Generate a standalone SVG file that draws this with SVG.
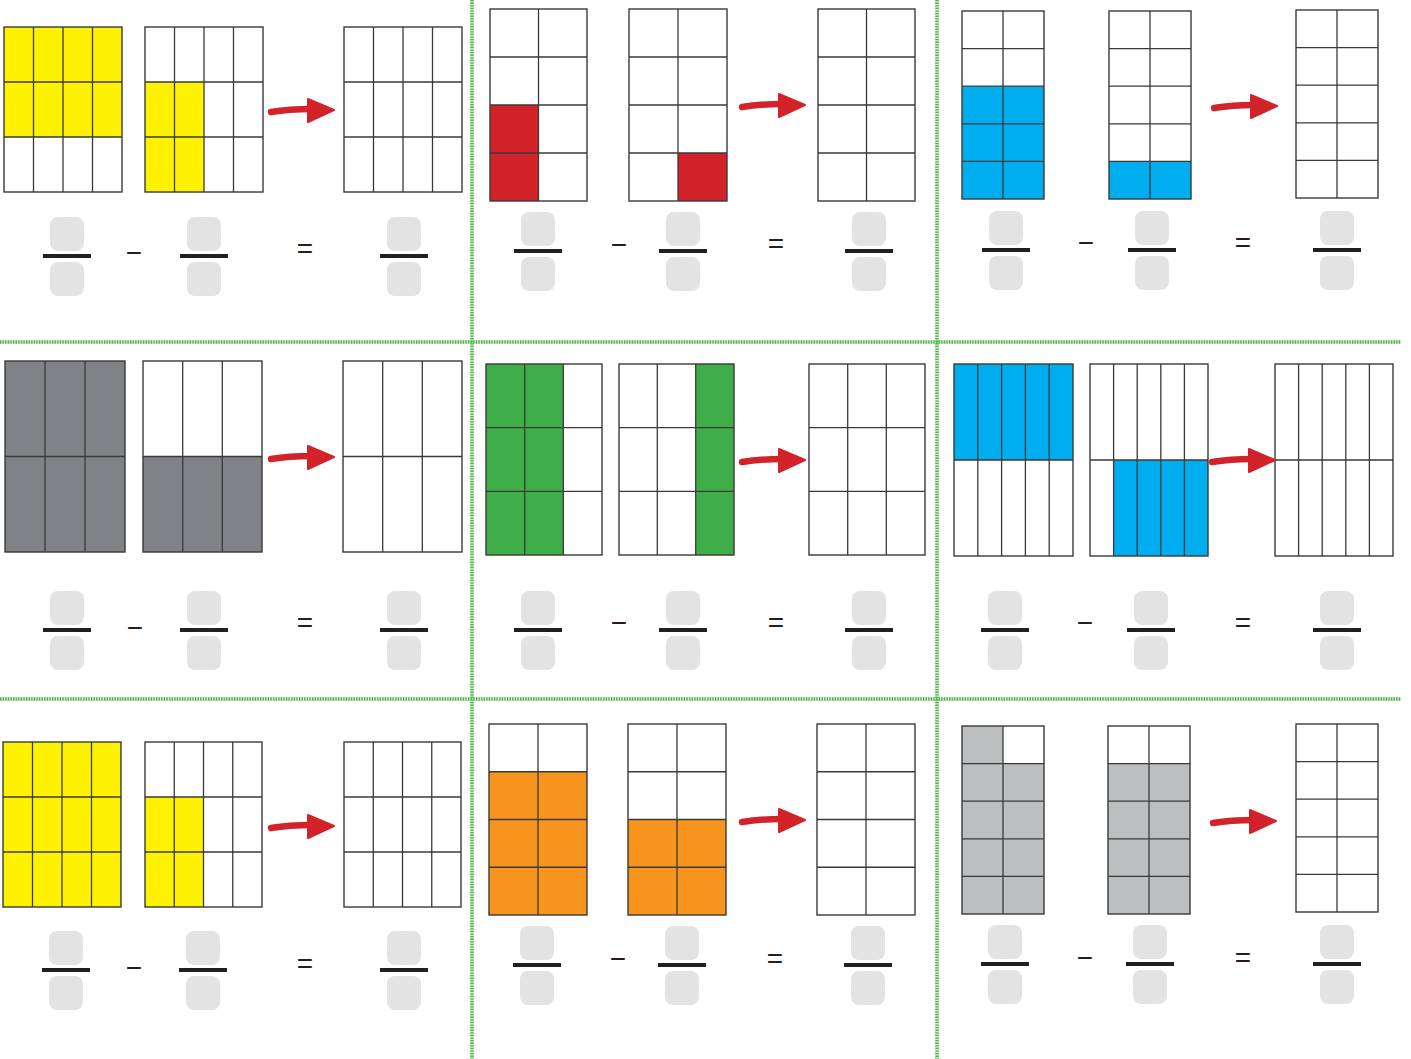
<svg xmlns="http://www.w3.org/2000/svg" xmlns:xlink="http://www.w3.org/1999/xlink" width="1411" height="1059" viewBox="0 0 1411 1059">
<style>
.g{fill:none;stroke:#3a3a3a;stroke-width:1.4}
.bg{fill:#fff;stroke:none}
.ln{stroke:#3a3a3a;stroke-width:1.3;fill:none}
.y{fill:#fff200}.r{fill:#d2232a}.b{fill:#00aeef}.k{fill:#808285}.gr{fill:#3fae49}.o{fill:#f7941d}.lg{fill:#bcbec0}
.box{fill:#e3e3e3}
.bar{fill:#231f20}
.op{font-family:"Liberation Sans",Arial,sans-serif;font-size:28px;fill:#231f20;text-anchor:middle}
.sepU{stroke:#cfe8cb;stroke-width:3.5;fill:none}
.sep{stroke:#4cb748;stroke-width:3.5;stroke-dasharray:1.3 1.3;fill:none}
.ash{fill:none;stroke:#d2232a;stroke-width:6.5;stroke-linecap:round}
.ahd{fill:#d2232a;stroke:#d2232a;stroke-width:2;stroke-linejoin:round}
</style>
<defs>
<g id="frac">
<rect class="box" x="-17" y="-39" width="34" height="34" rx="8"/>
<rect class="bar" x="-24" y="-2" width="48" height="4"/>
<rect class="box" x="-17" y="6" width="34" height="34" rx="8"/>
</g>
<g id="arrow">
<path class="ash" d="M-63,2 Q-45,-1 -22,-1"/>
<path class="ahd" d="M-26,-11 L0,0 L-26,12 Z"/>
</g>
</defs>
<rect width="1411" height="1059" fill="#fff"/>

<g id="separators">
<path class="sepU" d="M0,342 H1401 M0,699 H1401 M472,0 V1059 M937,0 V1059"/>
<path class="sep" d="M0,342 H1401 M0,699 H1401 M472,0 V1059 M937,0 V1059"/>
</g>

<!-- Panel 1 -->
<g id="p1-gridA"><rect class="bg" x="4" y="27" width="118" height="165"/><rect class="y" x="4" y="27" width="118" height="110"/>
<path class="ln" d="M33.5,27V192M63,27V192M92.5,27V192M4,82H122M4,137H122"/><rect class="g" x="4" y="27" width="118" height="165"/></g>
<g id="p1-gridB"><rect class="bg" x="145" y="27" width="118" height="165"/><rect class="y" x="145" y="82" width="59" height="110"/>
<path class="ln" d="M174.5,27V192M204,27V192M233.5,27V192M145,82H263M145,137H263"/><rect class="g" x="145" y="27" width="118" height="165"/></g>
<g id="p1-gridC"><rect class="bg" x="344" y="27" width="118" height="165"/>
<path class="ln" d="M373.5,27V192M403,27V192M432.5,27V192M344,82H462M344,137H462"/><rect class="g" x="344" y="27" width="118" height="165"/></g>
<g id="p1-fracA"><use xlink:href="#frac" transform="translate(67,256)"/></g>
<g id="p1-fracB"><use xlink:href="#frac" transform="translate(204,256)"/></g>
<g id="p1-fracC"><use xlink:href="#frac" transform="translate(404,256)"/></g>
<g id="p1-ops"><text class="op" x="134" y="262">−</text><text class="op" x="305" y="258">=</text></g>

<!-- Panel 2 -->
<g id="p2-gridA"><rect class="bg" x="490" y="9" width="97" height="192"/><rect class="r" x="490" y="105" width="48.5" height="96"/>
<path class="ln" d="M538.5,9V201M490,57H587M490,105H587M490,153H587"/><rect class="g" x="490" y="9" width="97" height="192"/></g>
<g id="p2-gridB"><rect class="bg" x="629" y="9" width="98" height="192"/><rect class="r" x="678" y="153" width="49" height="48"/>
<path class="ln" d="M678,9V201M629,57H727M629,105H727M629,153H727"/><rect class="g" x="629" y="9" width="98" height="192"/></g>
<g id="p2-gridC"><rect class="bg" x="818" y="9" width="97" height="192"/>
<path class="ln" d="M866.5,9V201M818,57H915M818,105H915M818,153H915"/><rect class="g" x="818" y="9" width="97" height="192"/></g>
<g id="p2-fracA"><use xlink:href="#frac" transform="translate(538,251)"/></g>
<g id="p2-fracB"><use xlink:href="#frac" transform="translate(683,251)"/></g>
<g id="p2-fracC"><use xlink:href="#frac" transform="translate(869,251)"/></g>
<g id="p2-ops"><text class="op" x="619" y="254">−</text><text class="op" x="776" y="253">=</text></g>

<!-- Panel 3 -->
<g id="p3-gridA"><rect class="bg" x="962" y="11" width="82" height="188"/><rect class="b" x="962" y="86.2" width="82" height="112.8"/>
<path class="ln" d="M1003,11V199M962,48.6H1044M962,86.2H1044M962,123.8H1044M962,161.4H1044"/><rect class="g" x="962" y="11" width="82" height="188"/></g>
<g id="p3-gridB"><rect class="bg" x="1109" y="11" width="82" height="188"/><rect class="b" x="1109" y="161.4" width="82" height="37.6"/>
<path class="ln" d="M1150,11V199M1109,48.6H1191M1109,86.2H1191M1109,123.8H1191M1109,161.4H1191"/><rect class="g" x="1109" y="11" width="82" height="188"/></g>
<g id="p3-gridC"><rect class="bg" x="1296" y="10" width="82" height="188"/>
<path class="ln" d="M1337,10V198M1296,47.6H1378M1296,85.2H1378M1296,122.8H1378M1296,160.4H1378"/><rect class="g" x="1296" y="10" width="82" height="188"/></g>
<g id="p3-fracA"><use xlink:href="#frac" transform="translate(1006,250)"/></g>
<g id="p3-fracB"><use xlink:href="#frac" transform="translate(1152,250)"/></g>
<g id="p3-fracC"><use xlink:href="#frac" transform="translate(1337,250)"/></g>
<g id="p3-ops"><text class="op" x="1086" y="252">−</text><text class="op" x="1243" y="252">=</text></g>

<!-- Panel 4 -->
<g id="p4-gridA"><rect class="k" x="5" y="361" width="120" height="191"/>
<path class="ln" d="M45,361V552M85,361V552M5,456.5H125"/><rect class="g" x="5" y="361" width="120" height="191"/></g>
<g id="p4-gridB"><rect class="bg" x="143" y="361" width="119" height="191"/><rect class="k" x="143" y="456.5" width="119" height="95.5"/>
<path class="ln" d="M182.7,361V552M222.3,361V552M143,456.5H262"/><rect class="g" x="143" y="361" width="119" height="191"/></g>
<g id="p4-gridC"><rect class="bg" x="343" y="361" width="119" height="191"/>
<path class="ln" d="M382.7,361V552M422.3,361V552M343,456.5H462"/><rect class="g" x="343" y="361" width="119" height="191"/></g>
<g id="p4-fracA"><use xlink:href="#frac" transform="translate(67,630)"/></g>
<g id="p4-fracB"><use xlink:href="#frac" transform="translate(204,630)"/></g>
<g id="p4-fracC"><use xlink:href="#frac" transform="translate(404,630)"/></g>
<g id="p4-ops"><text class="op" x="135" y="637">−</text><text class="op" x="305" y="632">=</text></g>

<!-- Panel 5 -->
<g id="p5-gridA"><rect class="bg" x="486" y="364" width="116" height="191"/><rect class="gr" x="486" y="364" width="77.3" height="191"/>
<path class="ln" d="M524.7,364V555M563.3,364V555M486,427.7H602M486,491.3H602"/><rect class="g" x="486" y="364" width="116" height="191"/></g>
<g id="p5-gridB"><rect class="bg" x="619" y="364" width="115" height="191"/><rect class="gr" x="695.7" y="364" width="38.3" height="191"/>
<path class="ln" d="M657.3,364V555M695.7,364V555M619,427.7H734M619,491.3H734"/><rect class="g" x="619" y="364" width="115" height="191"/></g>
<g id="p5-gridC"><rect class="bg" x="809" y="364" width="116" height="191"/>
<path class="ln" d="M847.7,364V555M886.3,364V555M809,427.7H925M809,491.3H925"/><rect class="g" x="809" y="364" width="116" height="191"/></g>
<g id="p5-fracA"><use xlink:href="#frac" transform="translate(538,630)"/></g>
<g id="p5-fracB"><use xlink:href="#frac" transform="translate(683,630)"/></g>
<g id="p5-fracC"><use xlink:href="#frac" transform="translate(869,630)"/></g>
<g id="p5-ops"><text class="op" x="619" y="632">−</text><text class="op" x="776" y="632">=</text></g>

<!-- Panel 6 -->
<g id="p6-gridA"><rect class="bg" x="954" y="364" width="119" height="192"/><rect class="b" x="954" y="364" width="119" height="96"/>
<path class="ln" d="M977.8,364V556M1001.6,364V556M1025.4,364V556M1049.2,364V556M954,460H1073"/><rect class="g" x="954" y="364" width="119" height="192"/></g>
<g id="p6-gridB"><rect class="bg" x="1090" y="364" width="118" height="192"/><rect class="b" x="1113.6" y="460" width="94.4" height="96"/>
<path class="ln" d="M1113.6,364V556M1137.2,364V556M1160.8,364V556M1184.4,364V556M1090,460H1208"/><rect class="g" x="1090" y="364" width="118" height="192"/></g>
<g id="p6-gridC"><rect class="bg" x="1275" y="364" width="118" height="192"/>
<path class="ln" d="M1298.6,364V556M1322.2,364V556M1345.8,364V556M1369.4,364V556M1275,460H1393"/><rect class="g" x="1275" y="364" width="118" height="192"/></g>
<g id="p6-fracA"><use xlink:href="#frac" transform="translate(1005,630)"/></g>
<g id="p6-fracB"><use xlink:href="#frac" transform="translate(1151,630)"/></g>
<g id="p6-fracC"><use xlink:href="#frac" transform="translate(1337,630)"/></g>
<g id="p6-ops"><text class="op" x="1085" y="632">−</text><text class="op" x="1243" y="632">=</text></g>

<!-- Panel 7 -->
<g id="p7-gridA"><rect class="y" x="3" y="742" width="118" height="165"/>
<path class="ln" d="M32.5,742V907M62,742V907M91.5,742V907M3,797H121M3,852H121"/><rect class="g" x="3" y="742" width="118" height="165"/></g>
<g id="p7-gridB"><rect class="bg" x="145" y="742" width="117" height="165"/><rect class="y" x="145" y="797" width="58.5" height="110"/>
<path class="ln" d="M174.25,742V907M203.5,742V907M232.75,742V907M145,797H262M145,852H262"/><rect class="g" x="145" y="742" width="117" height="165"/></g>
<g id="p7-gridC"><rect class="bg" x="344" y="742" width="117" height="165"/>
<path class="ln" d="M373.25,742V907M402.5,742V907M431.75,742V907M344,797H461M344,852H461"/><rect class="g" x="344" y="742" width="117" height="165"/></g>
<g id="p7-fracA"><use xlink:href="#frac" transform="translate(66,970)"/></g>
<g id="p7-fracB"><use xlink:href="#frac" transform="translate(203,970)"/></g>
<g id="p7-fracC"><use xlink:href="#frac" transform="translate(404,970)"/></g>
<g id="p7-ops"><text class="op" x="134" y="977">−</text><text class="op" x="305" y="973">=</text></g>

<!-- Panel 8 -->
<g id="p8-gridA"><rect class="bg" x="489" y="724" width="98" height="191"/><rect class="o" x="489" y="771.75" width="98" height="143.25"/>
<path class="ln" d="M538,724V915M489,771.75H587M489,819.5H587M489,867.25H587"/><rect class="g" x="489" y="724" width="98" height="191"/></g>
<g id="p8-gridB"><rect class="bg" x="628" y="724" width="98" height="191"/><rect class="o" x="628" y="819.5" width="98" height="95.5"/>
<path class="ln" d="M677,724V915M628,771.75H726M628,819.5H726M628,867.25H726"/><rect class="g" x="628" y="724" width="98" height="191"/></g>
<g id="p8-gridC"><rect class="bg" x="817" y="724" width="98" height="191"/>
<path class="ln" d="M866,724V915M817,771.75H915M817,819.5H915M817,867.25H915"/><rect class="g" x="817" y="724" width="98" height="191"/></g>
<g id="p8-fracA"><use xlink:href="#frac" transform="translate(537,965)"/></g>
<g id="p8-fracB"><use xlink:href="#frac" transform="translate(682,965)"/></g>
<g id="p8-fracC"><use xlink:href="#frac" transform="translate(868,965)"/></g>
<g id="p8-ops"><text class="op" x="618" y="968">−</text><text class="op" x="775" y="968">=</text></g>

<!-- Panel 9 -->
<g id="p9-gridA"><rect class="bg" x="962" y="726" width="82" height="188"/><rect class="lg" x="962" y="726" width="41" height="37.6"/><rect class="lg" x="962" y="763.6" width="82" height="150.4"/>
<path class="ln" d="M1003,726V914M962,763.6H1044M962,801.2H1044M962,838.8H1044M962,876.4H1044"/><rect class="g" x="962" y="726" width="82" height="188"/></g>
<g id="p9-gridB"><rect class="bg" x="1108" y="726" width="82" height="188"/><rect class="lg" x="1108" y="763.6" width="82" height="150.4"/>
<path class="ln" d="M1149,726V914M1108,763.6H1190M1108,801.2H1190M1108,838.8H1190M1108,876.4H1190"/><rect class="g" x="1108" y="726" width="82" height="188"/></g>
<g id="p9-gridC"><rect class="bg" x="1296" y="724" width="82" height="188"/>
<path class="ln" d="M1337,724V912M1296,761.6H1378M1296,799.2H1378M1296,836.8H1378M1296,874.4H1378"/><rect class="g" x="1296" y="724" width="82" height="188"/></g>
<g id="p9-fracA"><use xlink:href="#frac" transform="translate(1005,964)"/></g>
<g id="p9-fracB"><use xlink:href="#frac" transform="translate(1150,964)"/></g>
<g id="p9-fracC"><use xlink:href="#frac" transform="translate(1337,964)"/></g>
<g id="p9-ops"><text class="op" x="1085" y="967">−</text><text class="op" x="1243" y="967">=</text></g>

<g id="connectors">
<use xlink:href="#arrow" transform="translate(334,110)"/>
<use xlink:href="#arrow" transform="translate(805,105)"/>
<use xlink:href="#arrow" transform="translate(1277,106)"/>
<use xlink:href="#arrow" transform="translate(334,457)"/>
<use xlink:href="#arrow" transform="translate(805,460)"/>
<use xlink:href="#arrow" transform="translate(1275,460)"/>
<use xlink:href="#arrow" transform="translate(334,826)"/>
<use xlink:href="#arrow" transform="translate(805,820)"/>
<use xlink:href="#arrow" transform="translate(1276,821)"/>
</g>
</svg>
